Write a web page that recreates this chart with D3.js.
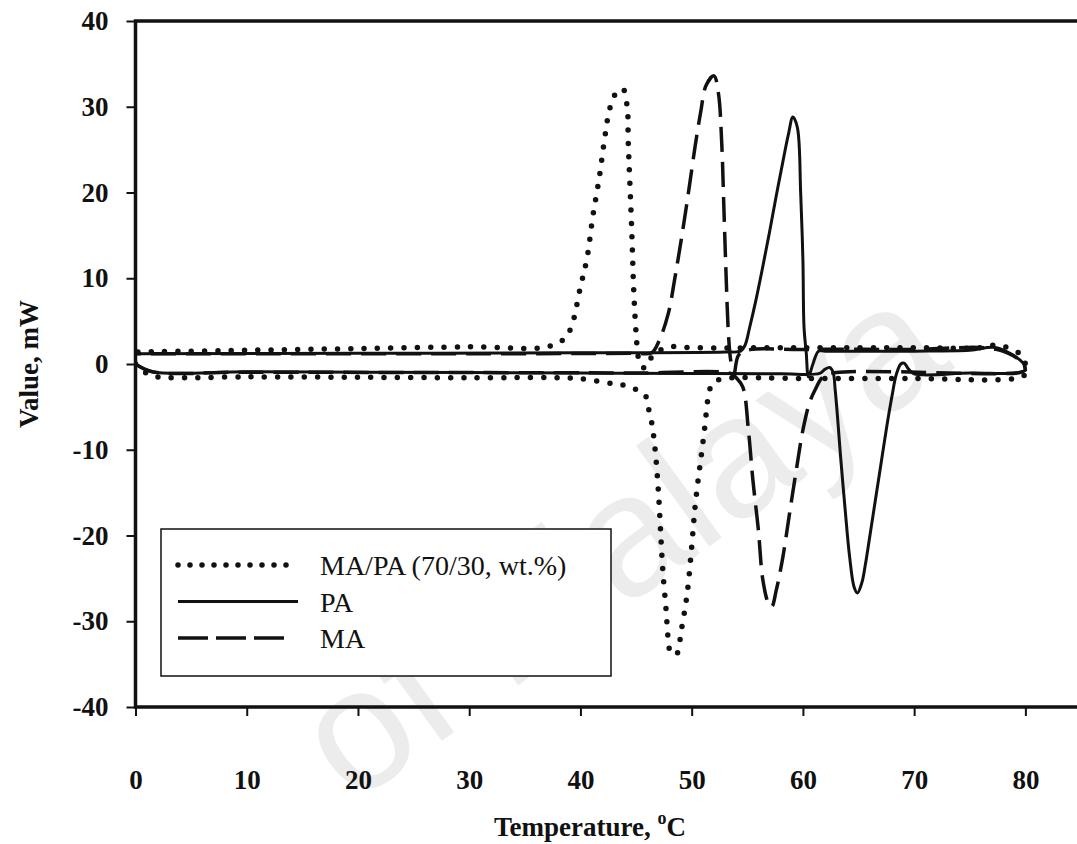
<!DOCTYPE html>
<html>
<head>
<meta charset="utf-8">
<script src="https://cdnjs.cloudflare.com/ajax/libs/d3/7.8.5/d3.min.js"></script>
<style>
  body { margin: 0; background: #fff; }
</style>
</head>
<body>
<div id="chart"></div>
<script>
// DSC curves: [temperature (C), value (mW)]
// heating run first, then the cooling run back from 80 C
const mapaHeat = [[0,0],[1,-1.1],[2,-1.5],[10,-1.5],[20,-1.55],[30,-1.6],[38,-1.6],[40,-1.7],[42.4,-2.2],[43.6,-2.4],
  [44.7,-2.8],[45.8,-3.6],[46.1,-5.1],[46.4,-6.8],[46.7,-9.8],[47.0,-14.7],[47.2,-19.4],[47.4,-24.0],[47.7,-28.7],
  [47.9,-32.2],[48.1,-33.6],[48.6,-33.9],[49.1,-30.8],[49.6,-26.7],[50.0,-21.3],[50.3,-16.7],[50.6,-13.3],[50.9,-10.3],
  [51.2,-7.1],[51.5,-3.8],[51.9,-2.2],[53,-1.7],[60,-1.7],[70,-1.7],[79,-1.7],[80,-1.2]];
const mapaCool = [[80,0],[79.5,1.2],[77.5,2.2],[76,1.9],[70,1.9],[60,1.9],[50,1.9],[48,2.0],[47,1.5],[46.4,0.8],
  [45.8,-0.5],[45.3,0.3],[45.1,2.0],[45.0,3.6],[44.8,8.3],[44.6,16.0],[44.3,25.8],[44.2,30.0],[43.8,32.1],[43.1,31.4],
  [42.6,29.6],[42.2,26.5],[41.7,21.8],[41.1,17.1],[40.6,12.4],[40.0,9.0],[39.2,4.4],[38.6,3.0],[37,2.0],[30,2.0],
  [20,1.8],[10,1.6],[0,1.4]];

const paHeat = [[0,0],[1.5,-0.9],[10,-0.9],[20,-0.95],[30,-1.0],[40,-1.05],[50,-1.1],[58,-1.15],[61.5,-1.1],[62.0,-0.6],
  [62.4,-0.4],[62.7,-0.9],[62.9,-3.0],[63.1,-6.0],[63.4,-11.0],[63.8,-17.0],[64.2,-22.5],[64.6,-26.0],[64.9,-26.7],
  [65.3,-25.5],[65.6,-23.5],[66.0,-20.2],[66.5,-16.0],[67.0,-11.8],[67.5,-7.6],[68.0,-3.8],[68.4,-1.2],[68.8,0.0],
  [69.1,0.1],[69.5,-0.6],[70,-1.15],[75,-1.05],[79.5,-1.0],[80,-0.7]];
const paCool = [[80,-0.7],[79.8,0.1],[77.4,1.9],[75,1.6],[70,1.5],[62,1.5],[61.4,1.5],[60.9,0.0],[60.5,-1.5],[60.3,1.3],
  [60.1,4.3],[60.0,12.1],[59.8,19.9],[59.5,27.6],[59.1,28.8],[58.7,26.8],[58.2,23.6],[57.6,19.6],[57.0,15.4],
  [56.4,11.4],[55.8,7.6],[55.2,4.2],[54.8,2.2],[54.4,1.5],[53,1.4],[40,1.3],[20,1.25],[0,1.2]];

const maHeat = [[0,0],[1.5,-0.9],[10,-0.95],[30,-1.0],[45,-1.05],[53.5,-1.1],[54.0,-1.6],[54.6,-2.7],[55.1,-7.7],
  [55.5,-13.5],[56.0,-19.4],[56.4,-25.2],[56.9,-27.9],[57.2,-28.3],[57.6,-26.4],[58.2,-22.5],[58.8,-17.4],[59.4,-12.4],
  [60.0,-7.7],[60.6,-4.5],[61.1,-3.0],[61.8,-1.5],[63,-1.0],[79.5,-1.0],[80,-0.7]];
const maCool = [[80,-0.7],[79.8,0.1],[77.4,1.7],[70,1.7],[60,1.7],[55,1.6],[54.2,1.0],[53.8,-1.2],[53.5,0.5],
  [53.3,3.6],[53.1,10.1],[52.9,18.0],[52.7,25.8],[52.4,31.6],[52.0,33.6],[51.3,32.5],[50.8,29.3],[50.3,25.3],
  [49.7,19.9],[49.1,14.8],[48.5,10.1],[47.9,5.9],[47.1,2.8],[46.4,1.3],[45,1.25],[30,1.2],[0,1.2]];

const seriesNames = ["MA/PA (70/30, wt.%)", "PA", "MA"];
const xTicks = [0, 10, 20, 30, 40, 50, 60, 70, 80];
const yTicks = [-40, -30, -20, -10, 0, 10, 20, 30, 40];

// layout
const W = 1077, H = 844;
const margin = { top: 21, left: 135.5 };

const svg = d3.select("#chart").append("svg")
  .attr("width", W)
  .attr("height", H);

const x = d3.scaleLinear().domain([0, 85]).range([margin.left, 1081]);
const y = d3.scaleLinear().domain([-40, 40]).range([707, margin.top]);

// faint watermark behind everything
svg.append("text")
  .attr("transform", "translate(352,806) rotate(-36)")
  .attr("style", "font-family: 'Liberation Sans', Arial, sans-serif; font-size: 172px; fill: #ececec")
  .text("of Malaya");

svg.append("clipPath").attr("id", "plotclip")
  .append("rect")
  .attr("x", x(0)).attr("y", y(40))
  .attr("width", x(85) - x(0)).attr("height", y(-40) - y(40));

const line = d3.line()
  .x(d => x(d[0]))
  .y(d => y(d[1]))
  .curve(d3.curveCatmullRom.alpha(0.5));

const styles = [
  { data: mapaHeat.concat(mapaCool), width: 5.5, dash: "0 13.3", cap: "round" },
  { data: paHeat.concat(paCool), width: 3, dash: null, cap: "butt" },
  { data: maHeat.concat(maCool), width: 3.5, dash: "25 10", cap: "butt" }
];

const plot = svg.append("g").attr("clip-path", "url(#plotclip)");
plot.selectAll("path.curve")
  .data(styles)
  .join("path")
  .attr("class", "curve")
  .attr("d", d => line(d.data))
  .attr("fill", "none")
  .attr("stroke", "#111")
  .attr("stroke-width", d => d.width)
  .attr("stroke-linecap", d => d.cap)
  .attr("stroke-linejoin", "round")
  .attr("stroke-dasharray", d => d.dash);

// axes
const yAxis = svg.append("g")
  .attr("transform", `translate(${margin.left},0)`)
  .call(d3.axisLeft(y).tickValues(yTicks).tickSize(9).tickPadding(18).tickFormat(d => String(d)));
const xAxis = svg.append("g")
  .attr("transform", `translate(0,${y(-40)})`)
  .call(d3.axisBottom(x).tickValues(xTicks).tickSize(9).tickPadding(54).tickFormat(d => String(d)));

[yAxis, xAxis].forEach(g => {
  g.select(".domain").remove();
  g.selectAll(".tick line").attr("stroke", "#111").attr("stroke-width", 2);
  g.selectAll("text")
    .attr("fill", "#111")
    .attr("style", "font-family: 'Liberation Serif', 'Times New Roman', serif; font-size: 27px; font-weight: bold");
});

// frame: left, bottom and top lines
svg.append("path")
  .attr("d", `M${x(85)},${y(40)} H${x(0)} V${y(-40)} H${x(85)}`)
  .attr("fill", "none")
  .attr("stroke", "#111")
  .attr("stroke-width", 3.5);

// axis titles
const title = svg.append("text")
  .attr("x", 590)
  .attr("y", 836)
  .attr("text-anchor", "middle")
  .attr("style", "font-family: 'Liberation Serif', 'Times New Roman', serif; font-size: 27px; font-weight: bold; fill: #111");
title.append("tspan").text("Temperature, ");
title.append("tspan").attr("dy", -12).attr("font-size", "18px").text("o");
title.append("tspan").attr("dy", 12).text("C");

svg.append("text")
  .attr("transform", `translate(38,${y(0)}) rotate(-90)`)
  .attr("text-anchor", "middle")
  .attr("style", "font-family: 'Liberation Serif', 'Times New Roman', serif; font-size: 27px; font-weight: bold; fill: #111")
  .text("Value, mW");

// legend
const legend = svg.append("g");
legend.append("rect")
  .attr("x", 161).attr("y", 529)
  .attr("width", 450).attr("height", 147)
  .attr("fill", "#fff")
  .attr("stroke", "#111")
  .attr("stroke-width", 1.5);

const legendItems = legend.selectAll("g.item")
  .data(seriesNames)
  .join("g")
  .attr("class", "item")
  .attr("transform", (d, i) => `translate(0,${565 + i * 36.5})`);

legendItems.append("line")
  .attr("x1", 178)
  .attr("x2", (d, i) => i === 1 ? 298 : 287)
  .attr("stroke", "#111")
  .attr("stroke-width", (d, i) => styles[i].width)
  .attr("stroke-linecap", (d, i) => styles[i].cap)
  .attr("stroke-dasharray", (d, i) => i === 0 ? "0 12" : (i === 2 ? "30 8" : null));

legendItems.append("text")
  .attr("x", 320)
  .attr("y", 10)
  .attr("style", "font-family: 'Liberation Serif', 'Times New Roman', serif; font-size: 28px; fill: #111")
  .text(d => d);
</script>
</body>
</html>
